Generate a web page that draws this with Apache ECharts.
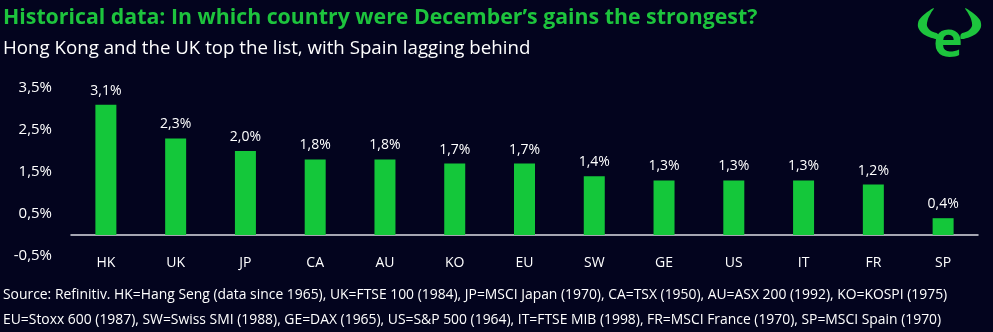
<!DOCTYPE html>
<html>
<head>
<meta charset="utf-8">
<script src="https://cdn.jsdelivr.net/npm/echarts@6/dist/echarts.min.js"></script>
<style>
  html, body { margin: 0; padding: 0; background: #03041e; }
  #chart { width: 993px; height: 332px; }
</style>
</head>
<body>
<div id="chart"></div>
<script>
// December average gains by market
const categories = ['HK', 'UK', 'JP', 'CA', 'AU', 'KO', 'EU', 'SW', 'GE', 'US', 'IT', 'FR', 'SP'];
const gains = [3.1, 2.3, 2.0, 1.8, 1.8, 1.7, 1.7, 1.4, 1.3, 1.3, 1.3, 1.2, 0.4];

const titleText = 'Historical data: In which country were December\u2019s gains the strongest?';
const subtitleText = 'Hong Kong and the UK top the list, with Spain lagging behind';
const sourceLines = [
  'Source: Refinitiv. HK=Hang Seng (data since 1965), UK=FTSE 100 (1984), JP=MSCI Japan (1970), CA=TSX (1950), AU=ASX 200 (1992), KO=KOSPI (1975)',
  'EU=Stoxx 600 (1987), SW=Swiss SMI (1988), GE=DAX (1965), US=S&P 500 (1964), IT=FTSE MIB (1998), FR=MSCI France (1970), SP=MSCI Spain (1970)'
];

const GREEN = '#14c73a';
const LOGO_GREEN = '#1dc43d';
const FONT = '"Open Sans", Lato, sans-serif';
const pct = v => v.toFixed(1).replace('.', ',') + '%';

// logo horn outline (left one); the right one is its mirror image
const hornLeft = [[934, 8], [926, 13], [919, 20], [918, 27], [922, 33], [929, 37], [938, 39], [938, 34], [931, 31], [927, 26], [928, 19], [931, 13]];
const hornRight = hornLeft.map(([x, y]) => [1899 - x, y]);

const chart = echarts.init(document.getElementById('chart'), null, { renderer: 'canvas' });
chart.setOption({
  backgroundColor: '#03041e',
  animation: false,
  textStyle: { fontFamily: FONT },
  grid: { left: 71, right: 15, top: 88, bottom: 76, containLabel: false },
  xAxis: {
    type: 'category',
    data: categories,
    axisLine: { onZero: true, lineStyle: { color: '#dcdce4', width: 1.5 } },
    axisTick: { show: false },
    axisLabel: { color: '#ffffff', fontSize: 14, margin: 0, fontFamily: FONT }
  },
  yAxis: {
    type: 'value',
    min: -0.5,
    max: 3.5,
    interval: 1,
    splitLine: { show: false },
    axisLine: { show: false },
    axisTick: { show: false },
    axisLabel: { color: '#ffffff', fontSize: 15, margin: 19, formatter: v => pct(v), fontFamily: FONT }
  },
  series: [{
    type: 'bar',
    data: gains,
    barWidth: 21,
    itemStyle: { color: GREEN },
    label: {
      show: true,
      position: 'top',
      distance: 7,
      color: '#ffffff',
      fontSize: 14,
      fontFamily: FONT,
      formatter: p => pct(p.value)
    }
  }],
  graphic: [
    { type: 'text', x: 3, y: 18, style: { text: titleText, fill: LOGO_GREEN, font: 'bold 21.3px ' + FONT, verticalAlign: 'middle' } },
    { type: 'text', x: 3, y: 49, style: { text: subtitleText, fill: '#ffffff', font: '18.7px ' + FONT, verticalAlign: 'middle' } },
    { type: 'text', x: 3, y: 295, style: { text: sourceLines[0], fill: '#ffffff', font: '13.9px ' + FONT, verticalAlign: 'middle' } },
    { type: 'text', x: 3, y: 320, style: { text: sourceLines[1], fill: '#ffffff', font: '13.9px ' + FONT, verticalAlign: 'middle' } },
    { type: 'polygon', shape: { points: hornLeft, smooth: 0.3 }, style: { fill: LOGO_GREEN } },
    { type: 'polygon', shape: { points: hornRight, smooth: 0.3 }, style: { fill: LOGO_GREEN } },
    { type: 'text', x: 948, y: 43, style: { text: 'e', fill: LOGO_GREEN, font: 'bold 50px ' + FONT, align: 'center', verticalAlign: 'middle' } }
  ]
});
</script>
</body>
</html>
